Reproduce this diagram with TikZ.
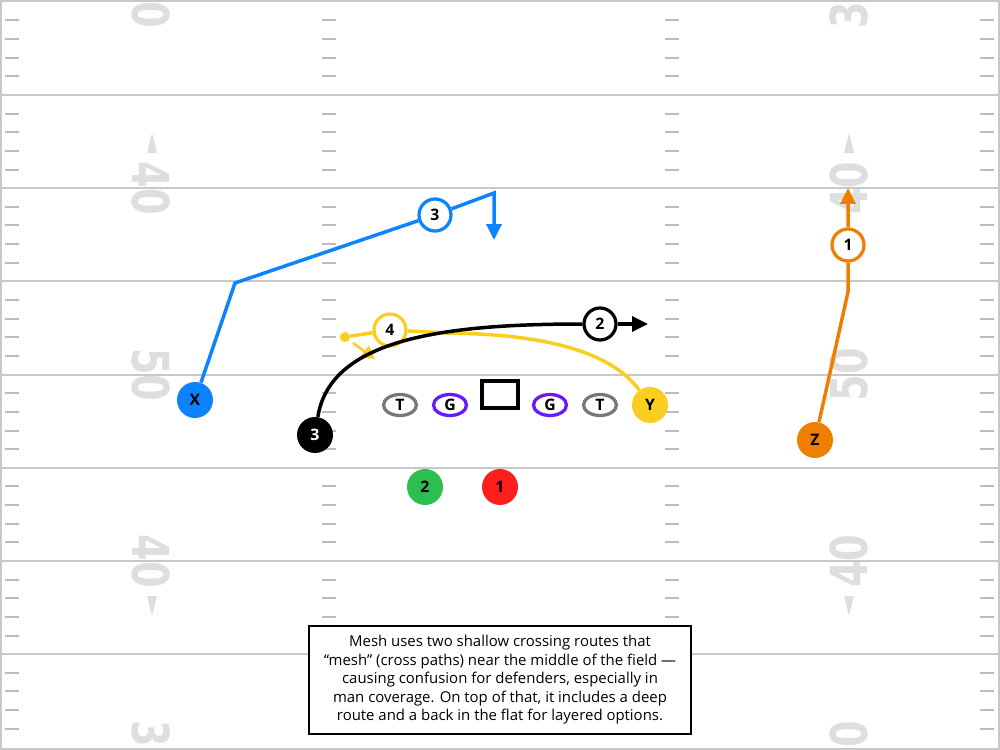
\documentclass[tikz,border=0pt]{standalone}
\usepackage{fontspec}
\setmainfont{Open Sans}
\newfontfamily\numfont{DejaVu Sans}
\usetikzlibrary{shapes.geometric, arrows.meta, positioning}

\definecolor{fieldgray}{RGB}{200,200,200}
\definecolor{hashgray}{RGB}{188,188,188}
\definecolor{numgray}{RGB}{222,222,222}
\definecolor{xblue}{RGB}{12,132,255}
\definecolor{zorange}{RGB}{238,127,0}
\definecolor{yyellow}{RGB}{250,206,30}
\definecolor{gpurple}{RGB}{104,24,255}
\definecolor{tgray}{RGB}{120,120,120}
\definecolor{rbgreen}{RGB}{44,190,78}
\definecolor{rbred}{RGB}{255,30,30}

\begin{document}
\begin{tikzpicture}[
        x=0.02cm, y=-0.02cm,
        >={Triangle[length=0.32cm, width=0.3cm]},
        yardline/.style={
            draw=fieldgray, 
            line width=0.04cm
        },
        hashmark/.style={
            draw=hashgray, 
            line width=0.04cm
        },
        yardnum/.style={
            font=\numfont\bfseries\fontsize{29}{29}\selectfont, 
            text=numgray, 
            inner sep=0pt
        },
        player/.style={
            circle, 
            minimum size=0.72cm, 
            inner sep=0pt, 
            font=\bfseries\fontsize{9}{9}\selectfont
        },
        readnum/.style={
            circle, 
            draw=#1, 
            line width=0.065cm, 
            fill=white, 
            minimum size=0.64cm, 
            inner sep=0pt, 
            font=\bfseries\fontsize{9}{9}\selectfont
        },
        lineman/.style={
            ellipse, 
            draw=#1, 
            line width=0.065cm, 
            fill=white, 
            minimum width=0.66cm, 
            minimum height=0.42cm, 
            inner sep=0pt, 
            font=\bfseries\fontsize{9}{9}\selectfont
        },
        route/.style={
            draw=#1, 
            line width=0.07cm
        }
    ]

    \useasboundingbox (0,0) rectangle (1000,750);
    \clip (0,0) rectangle (1000,750);

    % field
    \foreach \k in {1,...,7}
        \draw [yardline] (0,{1.8+93.2*\k}) -- (1000,{1.8+93.2*\k});
    \foreach \k in {0,...,7}
        \foreach \j in {1,...,4}
            \foreach \hx in {5,322,665,980}
                \draw [hashmark] (\hx,{1.8+93.2*\k+18.64*\j}) -- ++(14,0);

    \foreach \k/\n in {0/30, 2/40, 4/50, 6/40, 8/30} {
        \node (numL\k) [yardnum, rotate=-90] at (151,{1.8+93.2*\k}) {\scalebox{0.75}[1]{\n}};
        \node (numR\k) [yardnum, rotate=90] at (849,{1.8+93.2*\k}) {\scalebox{0.75}[1]{\n}};
    }
    \foreach \tx in {152,849} {
        \fill [numgray] (\tx-5,153) -- (\tx,133) -- (\tx+5,153) -- cycle;
        \fill [numgray] (\tx-5,596) -- (\tx,616) -- (\tx+5,596) -- cycle;
    }

    \draw [fieldgray, line width=0.04cm] (1,1) rectangle (999,749);

    % formation
    \node (X) [player, fill=xblue] at (195,400) {X};
    \node (qb) [player, fill=black, text=white] at (315,435) {3};
    \node (lt) [lineman=tgray] at (400,405) {T};
    \node (lg) [lineman=gpurple] at (450,405) {G};
    \node (ctr) [rectangle, draw=black, line width=0.08cm, fill=white, minimum width=0.72cm, minimum height=0.54cm] at (500,394.5) {};
    \node (rg) [lineman=gpurple] at (550,405) {G};
    \node (rt) [lineman=tgray] at (600,405) {T};
    \node (Y) [player, fill=yyellow] at (650,405) {Y};
    \node (Z) [player, fill=zorange] at (815,440) {Z};
    \node (rb2) [player, fill=rbgreen] at (425,487) {2};
    \node (rb1) [player, fill=rbred] at (500,487) {1};

    % reads
    \node (c3) [readnum=xblue] at (435,215) {3};
    \node (c2) [readnum=black] at (600,324) {2};
    \node (c4) [readnum=yyellow] at (390,330) {4};
    \node (c1) [readnum=zorange] at (848,245) {1};
    \node (ydot) [circle, fill=yyellow, minimum size=0.2cm, inner sep=0pt] at (345,337) {};

    \coordinate (xbreak) at (235,283);
    \coordinate (xcorner) at (494,193);
    \coordinate (xtip) at (494,240);
    \coordinate (zbend) at (848,292);
    \coordinate (ztip) at (848,188);
    \coordinate (c2tip) at (648,324);
    \coordinate (ycross) at (447,333);
    \coordinate (m1) at (353,343);
    \coordinate (m2) at (375,359);

    % routes
    \draw [route=yyellow] (Y) .. controls (610,350) and (540,334) .. (ycross) -- (c4) -- (ydot);
    \draw [route=yyellow, line width=0.05cm, -{Triangle[length=0.26cm, width=0.28cm]}] (m1) -- (m2);

    \draw [route=black] (qb) .. controls (330,340) and (440,324) .. (c2);
    \draw [route=black, ->] (c2) -- (c2tip);

    \draw [route=xblue, ->] (X) -- (xbreak) -- (c3) -- (xcorner) -- (xtip);

    \draw [route=zorange, ->] (Z) -- (zbend) -- (c1) -- (ztip);

    \node (note) [draw=black, line width=0.04cm, fill=white, minimum width=7.64cm, minimum height=2.16cm, align=center, font=\fontsize{8.5}{10.5}\selectfont] at (500,680) {Mesh uses two shallow crossing routes that \\ “mesh” (cross paths) near the middle of the field — \\ causing confusion for defenders, especially in \\ man coverage. On top of that, it includes a deep \\ route and a back in the flat for layered options.};

\end{tikzpicture}
\end{document}
